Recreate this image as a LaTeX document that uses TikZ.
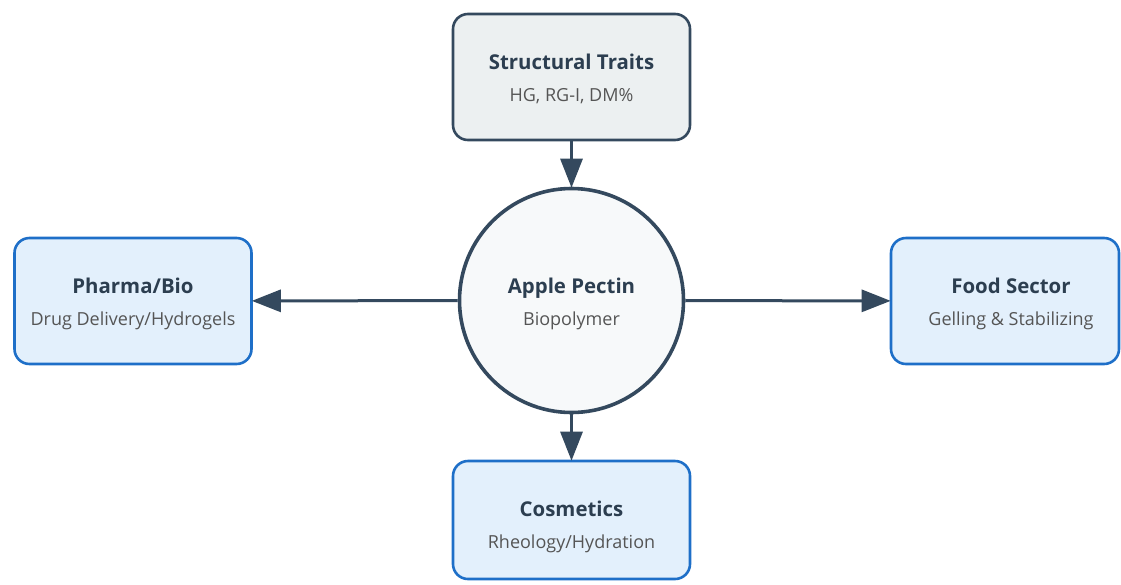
\documentclass[tikz,border=0pt]{standalone}
\usepackage{fontspec}
\setmainfont{Open Sans}
\usetikzlibrary{arrows.meta}
\definecolor{navy}{HTML}{34495E}
\definecolor{titlec}{HTML}{2C3E50}
\definecolor{subc}{HTML}{555555}
\definecolor{bluebd}{HTML}{1E6FC8}
\definecolor{bluefill}{HTML}{E3F0FC}
\definecolor{grayfill}{HTML}{ECF0F1}
\definecolor{hubfill}{HTML}{F7F9FA}
\tikzset{
  boxbase/.style={rectangle, rounded corners=15pt, line width=2.6pt, minimum width=237pt, minimum height=126pt, inner sep=0pt},
  graybox/.style={boxbase, draw=navy, fill=grayfill},
  bluebox/.style={boxbase, draw=bluebd, fill=bluefill},
  hub/.style={circle, draw=navy, fill=hubfill, line width=3.6pt, minimum size=224pt, inner sep=0pt},
  ttl/.style={anchor=base, font=\fontsize{20.4}{24}\selectfont\bfseries, text=titlec, inner sep=0pt},
  sub/.style={anchor=base, font=\fontsize{18}{21}\selectfont, text=subc, inner sep=0pt},
  conn/.style={draw=navy, line width=3pt, -{Triangle[length=29pt,width=22pt]}, shorten >=-1pt}
}
\begin{document}
\begin{tikzpicture}[x=1pt,y=-1pt]
\useasboundingbox (0,0) rectangle (1121,584);
\node[graybox] (st) at (571.5,77) {};
\node[hub] (ap) at (571.5,300.5) {};
\node[bluebox] (ph) at (133,301) {};
\node[bluebox, minimum width=228pt] (fs) at (1005,301) {};
\node[bluebox, minimum height=118pt] (co) at (571.5,520) {};

\node[ttl] (stt) at (571.5,69) {Structural Traits};
\node[sub] (sts) at (571.5,101.5) {HG, RG-I, DM\%};
\node[ttl] (apt) at (571.5,293) {Apple Pectin};
\node[sub] (aps) at (571.5,325.5) {Biopolymer};
\node[ttl] (pht) at (133,293) {Pharma/Bio};
\node[sub] (phs) at (133,325.5) {Drug Delivery/Hydrogels};
\node[ttl] (fst) at (1011,293) {Food Sector};
\node[sub] (fss) at (1011,325.5) {Gelling \& Stabilizing};
\node[ttl] (cot) at (571.5,516) {Cosmetics};
\node[sub] (cos) at (571.5,548.5) {Rheology/Hydration};

\draw[conn] (st) -- (ap);
\draw[conn] (ap) -- (ph);
\draw[conn] (ap) -- (fs);
\draw[conn] (ap) -- (co);
\end{tikzpicture}
\end{document}
